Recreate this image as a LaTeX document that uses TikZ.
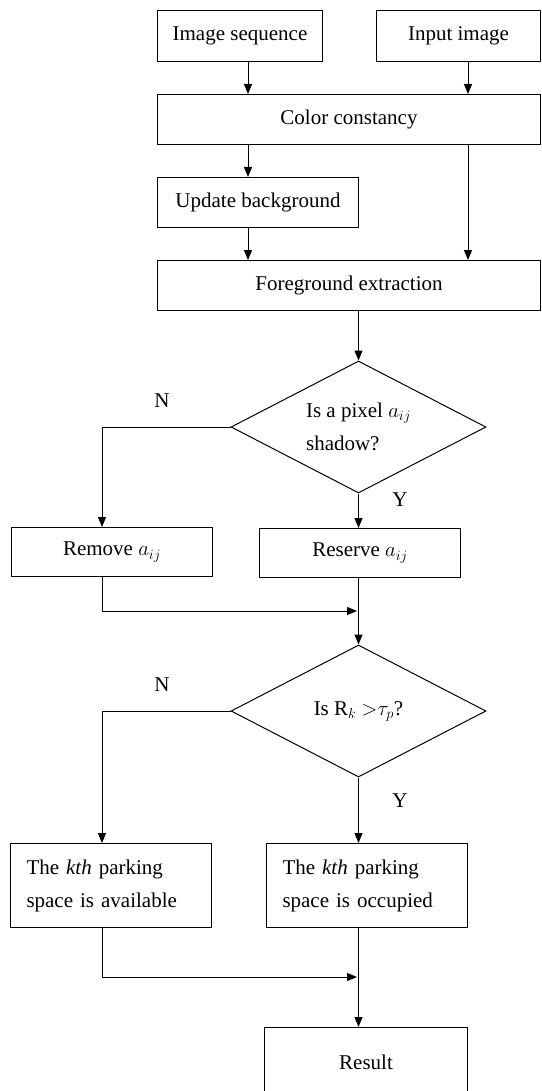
\documentclass[tikz,border=0pt]{standalone}
\usepackage{fontspec}
\setmainfont{Liberation Serif}
\usetikzlibrary{arrows.meta,positioning,shapes.geometric}

\begin{document}
\begin{tikzpicture}[x=1pt,y=-1pt,font=\fontsize{21}{33}\selectfont,line width=1pt,
  box/.style={draw,anchor=north west,inner sep=0pt,align=center},
  wrapbox/.style={box,align=left,text width=169pt,inner xsep=16pt,minimum height=84pt},
  decision/.style={draw,diamond,aspect=1.93,inner sep=0pt,minimum width=255pt,minimum height=132pt,align=left},
  yn/.style={inner sep=0pt},
  >={Triangle[length=10pt,width=8pt]}]
\useasboundingbox (0,0) rectangle (541,1091);
% connector columns
\coordinate (colL) at (248,0);
\coordinate (colR) at (468,0);
\coordinate (colN) at (102,0);
\coordinate (join1) at (357,611);
\coordinate (join2) at (357,977);

\node[box,minimum width=165pt,minimum height=51pt] (seq) at (157,10) {Image sequence};
\node[box,minimum width=164pt,minimum height=51pt] (inp) at (376,10) {Input image};
\node[box,minimum width=383pt,minimum height=50pt] (cc) at (157,94) {Color constancy};
\node[box,minimum width=201pt,minimum height=50pt] (upd) at (157,177) {Update background};
\node[box,minimum width=383pt,minimum height=50pt] (fg) at (157,260) {Foreground extraction};
\node[decision] (dia1) at (358.5,427) {Is a pixel $a_{ij}$\\shadow?};
\node[box,minimum width=201pt,minimum height=49pt] (rem) at (11,527) {Remove $a_{ij}$};
\node[box,minimum width=201pt,minimum height=49pt] (res) at (259,528) {Reserve $a_{ij}$};
\node[decision] (dia2) at (358.5,711) {Is R$_k$ $>$$\tau_p$?};
\node[wrapbox] (avail) at (10,843) {The \textit{kth} parking\\space is available};
\node[wrapbox] (occ) at (266,843) {The \textit{kth} parking\\space is occupied};
\node[box,minimum width=203pt,minimum height=70pt] (result) at (264,1027) {Result};

\node[yn] (n1) at (162,401) {N};
\node[yn] (y1) at (400,500) {Y};
\node[yn] (n2) at (162,685) {N};
\node[yn] (y2) at (400,801) {Y};

\draw[->] (seq.south -| colL) -- (cc.north -| colL);
\draw[->] (inp.south -| colR) -- (cc.north -| colR);
\draw[->] (cc.south -| colL) -- (upd.north -| colL);
\draw[->] (cc.south -| colR) -- (fg.north -| colR);
\draw[->] (upd.south -| colL) -- (fg.north -| colL);
\draw[->] (fg.south -| dia1.north) -- (dia1.north);
\draw[->] (dia1.west) -| (rem.north -| colN);
\draw[->] (dia1.south) -- (res.north -| dia1.south);
\draw[->] (rem.south -| colN) |- (join1);
\draw[->] (res.south -| dia2.north) -- (dia2.north);
\draw[->] (dia2.west) -| (avail.north -| colN);
\draw[->] (dia2.south) -- (occ.north -| dia2.south);
\draw[->] (avail.south -| colN) |- (join2);
\draw[->] (occ.south -| dia2.south) -- (result.north -| dia2.south);
\end{tikzpicture}
\end{document}
